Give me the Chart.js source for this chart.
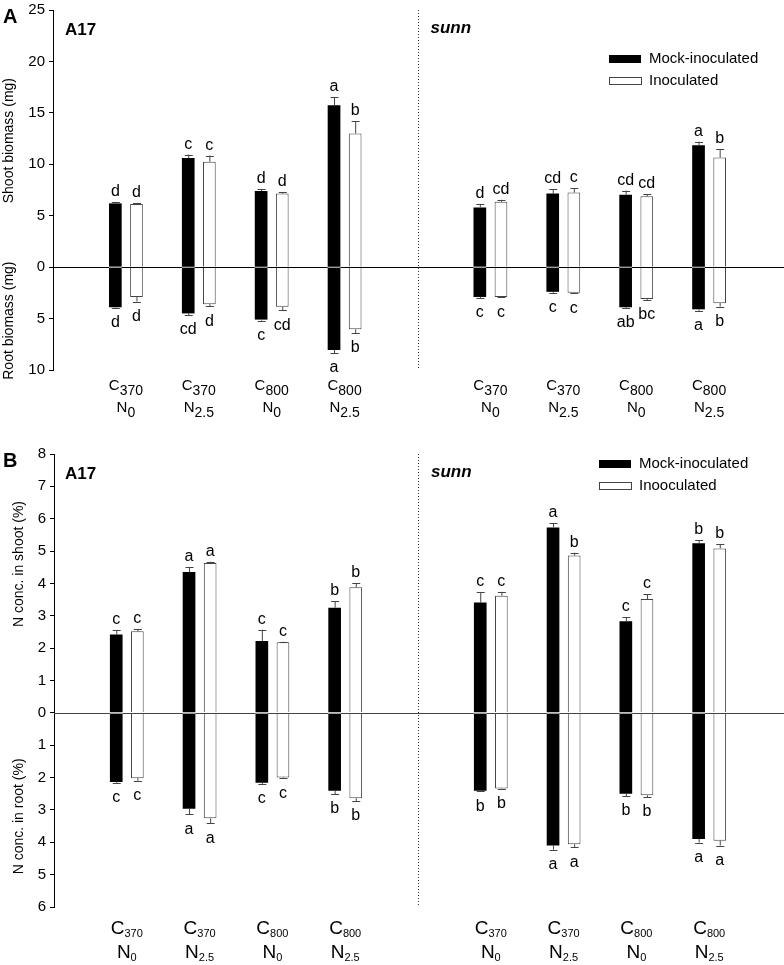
<!DOCTYPE html>
<html>
<head>
<meta charset="utf-8">
<script src="https://cdn.jsdelivr.net/npm/chart.js@4.4.1/dist/chart.umd.min.js"></script>
<style>
  html, body { margin: 0; padding: 0; background: #fff; }
  #wrap { position: relative; width: 784px; height: 965px; overflow: hidden; }
  #wrap canvas { position: absolute; left: 0; }
</style>
</head>
<body>
<div id="wrap">
  <canvas id="chartA" width="784" height="430" style="top:-3px"></canvas>
  <canvas id="chartB" width="784" height="525" style="top:440px"></canvas>
</div>
<script>
// treatment labels (C = CO2 ppm, N = nitrate mM)
const co2Levels = ['370', '370', '800', '800'];
const nLevels = ['0', '2.5', '0', '2.5'];

// Panel A - biomass (mg), means and SE
const bioA17ShootMock = [6.2, 10.6, 7.4, 15.75];
const bioA17ShootMockSe = [0.15, 0.35, 0.15, 0.75];
const bioA17ShootInoc = [6.15, 10.25, 7.15, 13.0];
const bioA17ShootInocSe = [0.1, 0.6, 0.15, 1.2];
const bioA17RootMock = [3.9, 4.5, 5.1, 8.05];
const bioA17RootMockSe = [0.05, 0.15, 0.1, 0.3];
const bioA17RootInoc = [2.9, 3.6, 3.85, 6.05];
const bioA17RootInocSe = [0.45, 0.2, 0.35, 0.35];
const bioSunnShootMock = [5.8, 7.15, 7.05, 11.85];
const bioSunnShootMockSe = [0.35, 0.4, 0.4, 0.35];
const bioSunnShootInoc = [6.35, 7.25, 6.9, 10.65];
const bioSunnShootInocSe = [0.2, 0.45, 0.2, 0.8];
const bioSunnRootMock = [2.9, 2.4, 3.9, 4.1];
const bioSunnRootMockSe = [0.1, 0.1, 0.08, 0.15];
const bioSunnRootInoc = [2.9, 2.5, 3.1, 3.5];
const bioSunnRootInocSe = [0.05, 0.05, 0.08, 0.33];

const bioA17ShootMockLet = ['d', 'c', 'd', 'a'];
const bioA17ShootInocLet = ['d', 'c', 'd', 'b'];
const bioA17RootMockLet = ['d', 'cd', 'c', 'a'];
const bioA17RootInocLet = ['d', 'd', 'cd', 'b'];
const bioSunnShootMockLet = ['d', 'cd', 'cd', 'a'];
const bioSunnShootInocLet = ['cd', 'c', 'cd', 'b'];
const bioSunnRootMockLet = ['c', 'c', 'ab', 'a'];
const bioSunnRootInocLet = ['c', 'c', 'bc', 'b'];

// Panel B - N concentration (%), means and SE
const nA17ShootMock = [2.42, 4.35, 2.22, 3.25];
const nA17ShootMockSe = [0.14, 0.15, 0.35, 0.2];
const nA17ShootInoc = [2.52, 4.63, 2.18, 3.88];
const nA17ShootInocSe = [0.06, 0.04, 0.02, 0.12];
const nA17RootMock = [2.14, 2.96, 2.16, 2.41];
const nA17RootMockSe = [0.03, 0.17, 0.04, 0.1];
const nA17RootInoc = [2.02, 3.26, 2.0, 2.64];
const nA17RootInocSe = [0.08, 0.15, 0.02, 0.08];
const nSunnShootMock = [3.41, 5.73, 2.83, 5.24];
const nSunnShootMockSe = [0.32, 0.13, 0.12, 0.09];
const nSunnShootInoc = [3.62, 4.86, 3.52, 5.08];
const nSunnShootInocSe = [0.12, 0.09, 0.14, 0.14];
const nSunnRootMock = [2.41, 4.1, 2.5, 3.9];
const nSunnRootMockSe = [0.02, 0.13, 0.07, 0.11];
const nSunnRootInoc = [2.34, 4.06, 2.55, 3.95];
const nSunnRootInocSe = [0.01, 0.09, 0.05, 0.15];

const nA17ShootMockLet = ['c', 'a', 'c', 'b'];
const nA17ShootInocLet = ['c', 'a', 'c', 'b'];
const nA17RootMockLet = ['c', 'a', 'c', 'b'];
const nA17RootInocLet = ['c', 'a', 'c', 'b'];
const nSunnShootMockLet = ['c', 'a', 'c', 'b'];
const nSunnShootInocLet = ['c', 'b', 'c', 'b'];
const nSunnRootMockLet = ['b', 'a', 'b', 'a'];
const nSunnRootInocLet = ['b', 'a', 'b', 'a'];

const FONT = '"Liberation Sans", Arial, sans-serif';

// 11 slots: empty, 4 A17 groups, divider, 4 sunn groups, empty
const slotLabels = ['', 'A17 C370 N0', 'A17 C370 N2.5', 'A17 C800 N0', 'A17 C800 N2.5', '',
    'sunn C370 N0', 'sunn C370 N2.5', 'sunn C800 N0', 'sunn C800 N2.5', ''];

function spread(a17, sunn, sign) {
    const f = v => (typeof v === 'number' ? v * sign : v);
    return [null, ...a17.map(f), null, ...sunn.map(f), null];
}

function drawSub(ctx, cx, baseY, main, sub, fMain, fSub, drop) {
    ctx.font = fMain + 'px ' + FONT;
    const w1 = ctx.measureText(main).width;
    ctx.font = fSub + 'px ' + FONT;
    const w2 = ctx.measureText(sub).width;
    const x0 = cx - (w1 + w2) / 2;
    ctx.textAlign = 'left';
    ctx.textBaseline = 'alphabetic';
    ctx.font = fMain + 'px ' + FONT;
    ctx.fillText(main, x0, baseY);
    ctx.font = fSub + 'px ' + FONT;
    ctx.fillText(sub, x0 + w1, baseY + drop);
}

const decor = {
    id: 'decor',
    afterDatasetsDraw(chart, args, o) {
        const { ctx, chartArea: ca, scales: { x, y } } = chart;
        const y0 = y.getPixelForValue(0);
        ctx.save();
        // zero line
        ctx.strokeStyle = o.zeroColor;
        ctx.lineWidth = 1;
        ctx.beginPath();
        ctx.moveTo(ca.left, Math.round(y0) + 0.5);
        ctx.lineTo(chart.width, Math.round(y0) + 0.5);
        ctx.stroke();

        chart.data.datasets.forEach((ds, di) => {
            const meta = chart.getDatasetMeta(di);
            meta.data.forEach((bar, i) => {
                const v = ds.data[i];
                if (v == null) return;
                const sgn = v >= 0 ? 1 : -1;
                // light gap at zero inside black bars
                if (ds.stack === 'mock') {
                    ctx.strokeStyle = '#9a9a9a';
                    ctx.beginPath();
                    ctx.moveTo(bar.x - bar.width / 2, Math.round(y0) + 0.5);
                    ctx.lineTo(bar.x + bar.width / 2, Math.round(y0) + 0.5);
                    ctx.stroke();
                }
                // one-sided error bar
                const endPx = y.getPixelForValue(v + sgn * ds.err[i]);
                ctx.strokeStyle = '#444';
                ctx.lineWidth = 1;
                ctx.beginPath();
                ctx.moveTo(bar.x + 0.5, bar.y);
                ctx.lineTo(bar.x + 0.5, endPx);
                ctx.moveTo(bar.x - 3.5, Math.round(endPx) + 0.5);
                ctx.lineTo(bar.x + 4.5, Math.round(endPx) + 0.5);
                ctx.stroke();
                // significance letter
                ctx.fillStyle = '#000';
                ctx.font = '16px ' + FONT;
                ctx.textAlign = 'center';
                if (sgn > 0) {
                    ctx.textBaseline = 'alphabetic';
                    ctx.fillText(ds.letters[i], bar.x, endPx - 6);
                } else {
                    ctx.textBaseline = 'top';
                    ctx.fillText(ds.letters[i], bar.x, endPx + 7);
                }
            });
        });
        ctx.restore();
    },
    afterDraw(chart, args, o) {
        const { ctx, chartArea: ca, scales: { x, y } } = chart;
        ctx.save();
        // dotted divider between genotypes
        const xd = Math.round(x.getPixelForValue(5)) + 0.5;
        ctx.strokeStyle = '#333';
        ctx.setLineDash([1, 2]);
        ctx.beginPath();
        ctx.moveTo(xd, ca.top);
        ctx.lineTo(xd, ca.bottom);
        ctx.stroke();
        ctx.setLineDash([]);

        ctx.fillStyle = '#000';
        // panel letter and genotype names
        ctx.textAlign = 'left';
        ctx.textBaseline = 'alphabetic';
        ctx.font = 'bold 20px ' + FONT;
        ctx.fillText(o.panel, 3, ca.top + o.panelDy);
        ctx.font = 'bold 17px ' + FONT;
        ctx.fillText('A17', 65, ca.top + o.nameDy);
        ctx.font = 'bold italic 17px ' + FONT;
        ctx.fillText('sunn', x.getPixelForValue(5) + 13, ca.top + o.nameDy - 2);

        // y axis titles
        ctx.font = '14px ' + FONT;
        ctx.textAlign = 'center';
        ctx.textBaseline = 'middle';
        [[o.shootTitle, o.shootAt], [o.rootTitle, o.rootAt]].forEach(([t, v]) => {
            ctx.save();
            ctx.translate(o.titleX, y.getPixelForValue(v));
            ctx.rotate(-Math.PI / 2);
            ctx.fillText(t, 0, 0);
            ctx.restore();
        });

        // legend
        const lx = ca.right - o.legendRight;
        const ly = ca.top + o.legendDy;
        ctx.fillStyle = '#000';
        ctx.fillRect(lx, ly - 4, 32, 8);
        ctx.fillStyle = '#fff';
        ctx.strokeStyle = '#444';
        ctx.fillRect(lx, ly + 18, 32, 7);
        ctx.strokeRect(lx + 0.5, ly + 18.5, 32, 7);
        ctx.fillStyle = '#000';
        ctx.font = '15px ' + FONT;
        ctx.textAlign = 'left';
        ctx.textBaseline = 'middle';
        ctx.fillText('Mock-inoculated', lx + 40, ly);
        ctx.fillText(o.inocLabel, lx + 40, ly + 22);

        // treatment labels with subscripts
        [1, 2, 3, 4, 6, 7, 8, 9].forEach((slot, k) => {
            const g = k % 4;
            const cx = x.getPixelForValue(slot);
            drawSub(ctx, cx, ca.bottom + o.labDy1, 'C', co2Levels[g], o.labMain, o.labSub, o.subDrop);
            drawSub(ctx, cx, ca.bottom + o.labDy2, 'N', nLevels[g], o.labMain, o.labSub, o.subDrop);
        });
        ctx.restore();
    }
};

function makeChart(id, d, yMin, yMax, step, axisW, pad, deco) {
    const datasets = [
        { label: 'Mock-inoculated shoot', stack: 'mock', data: spread(d.shootMock[0], d.shootMock[1], 1),
          err: spread(d.shootMockSe[0], d.shootMockSe[1], 1), letters: spread(d.shootMockLet[0], d.shootMockLet[1], 1),
          backgroundColor: '#000', borderColor: '#000', borderWidth: 0 },
        { label: 'Mock-inoculated root', stack: 'mock', data: spread(d.rootMock[0], d.rootMock[1], -1),
          err: spread(d.rootMockSe[0], d.rootMockSe[1], 1), letters: spread(d.rootMockLet[0], d.rootMockLet[1], 1),
          backgroundColor: '#000', borderColor: '#000', borderWidth: 0 },
        { label: deco.inocLabel + ' shoot', stack: 'inoc', data: spread(d.shootInoc[0], d.shootInoc[1], 1),
          err: spread(d.shootInocSe[0], d.shootInocSe[1], 1), letters: spread(d.shootInocLet[0], d.shootInocLet[1], 1),
          backgroundColor: '#fff', borderColor: '#444', borderWidth: 1 },
        { label: deco.inocLabel + ' root', stack: 'inoc', data: spread(d.rootInoc[0], d.rootInoc[1], -1),
          err: spread(d.rootInocSe[0], d.rootInocSe[1], 1), letters: spread(d.rootInocLet[0], d.rootInocLet[1], 1),
          backgroundColor: '#fff', borderColor: '#444', borderWidth: 1 }
    ];
    return new Chart(document.getElementById(id), {
        type: 'bar',
        data: { labels: slotLabels, datasets },
        plugins: [decor],
        options: {
            responsive: false,
            animation: false,
            events: [],
            categoryPercentage: 0.58,
            barPercentage: 0.6,
            layout: { padding: pad },
            plugins: {
                legend: { display: false },
                tooltip: { enabled: false },
                decor: deco
            },
            scales: {
                x: { type: 'category', display: false, offset: false, stacked: true },
                y: {
                    stacked: true,
                    min: yMin,
                    max: yMax,
                    afterFit(scale) { scale.width = axisW; },
                    border: { color: '#000', width: 1 },
                    grid: { drawOnChartArea: false, tickLength: 4, color: '#000' },
                    ticks: {
                        stepSize: step,
                        padding: 4,
                        color: '#000',
                        font: { family: FONT, size: 15 },
                        callback: v => Math.abs(v)
                    }
                }
            }
        }
    });
}

makeChart('chartA', {
    shootMock: [bioA17ShootMock, bioSunnShootMock], shootMockSe: [bioA17ShootMockSe, bioSunnShootMockSe],
    shootMockLet: [bioA17ShootMockLet, bioSunnShootMockLet],
    rootMock: [bioA17RootMock, bioSunnRootMock], rootMockSe: [bioA17RootMockSe, bioSunnRootMockSe],
    rootMockLet: [bioA17RootMockLet, bioSunnRootMockLet],
    shootInoc: [bioA17ShootInoc, bioSunnShootInoc], shootInocSe: [bioA17ShootInocSe, bioSunnShootInocSe],
    shootInocLet: [bioA17ShootInocLet, bioSunnShootInocLet],
    rootInoc: [bioA17RootInoc, bioSunnRootInoc], rootInocSe: [bioA17RootInocSe, bioSunnRootInocSe],
    rootInocLet: [bioA17RootInocLet, bioSunnRootInocLet]
}, -10, 25, 5, 53, { top: 10, bottom: 57, left: 0, right: 2 }, {
    panel: 'A', panelDy: 13, nameDy: 25,
    shootTitle: 'Shoot biomass (mg)', shootAt: 12.3, rootTitle: 'Root biomass (mg)', rootAt: -5.2, titleX: 9,
    inocLabel: 'Inoculated', legendRight: 173, legendDy: 49,
    labMain: 15, labSub: 14, subDrop: 5, labDy1: 20, labDy2: 42, zeroColor: '#000'
});

makeChart('chartB', {
    shootMock: [nA17ShootMock, nSunnShootMock], shootMockSe: [nA17ShootMockSe, nSunnShootMockSe],
    shootMockLet: [nA17ShootMockLet, nSunnShootMockLet],
    rootMock: [nA17RootMock, nSunnRootMock], rootMockSe: [nA17RootMockSe, nSunnRootMockSe],
    rootMockLet: [nA17RootMockLet, nSunnRootMockLet],
    shootInoc: [nA17ShootInoc, nSunnShootInoc], shootInocSe: [nA17ShootInocSe, nSunnShootInocSe],
    shootInocLet: [nA17ShootInocLet, nSunnShootInocLet],
    rootInoc: [nA17RootInoc, nSunnRootInoc], rootInocSe: [nA17RootInocSe, nSunnRootInocSe],
    rootInocLet: [nA17RootInocLet, nSunnRootInocLet]
}, -6, 8, 1, 54, { top: 14, bottom: 58, left: 0, right: 2 }, {
    panel: 'B', panelDy: 13, nameDy: 25,
    shootTitle: 'N conc. in shoot (%)', shootAt: 4.6, rootTitle: 'N conc. in root (%)', rootAt: -3.2, titleX: 19,
    inocLabel: 'Inooculated', legendRight: 183, legendDy: 10,
    labMain: 19, labSub: 11, subDrop: 3, labDy1: 27, labDy2: 51, zeroColor: '#444'
});
</script>
</body>
</html>
